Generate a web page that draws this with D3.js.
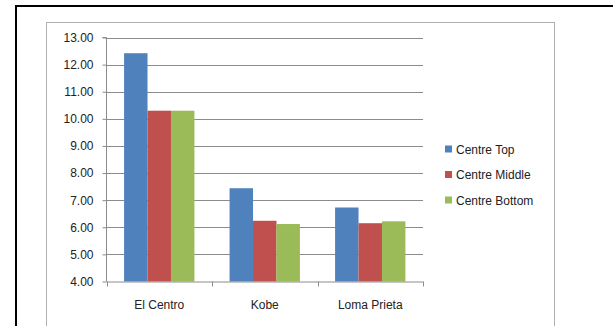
<!DOCTYPE html>
<html>
<head>
<meta charset="utf-8">
<script src="https://cdnjs.cloudflare.com/ajax/libs/d3/7.8.5/d3.min.js"></script>
<style>
  html, body { margin: 0; padding: 0; background: #fff; }
  svg { display: block; }
  text { font-family: "Liberation Sans", Arial, sans-serif; fill: #222; }
</style>
</head>
<body>
<svg id="chart" width="613" height="326"></svg>
<script>
// Peak response per location, by earthquake record
const categories = ["El Centro", "Kobe", "Loma Prieta"];
const seriesNames = ["Centre Top", "Centre Middle", "Centre Bottom"];
const centreTop = [12.42, 7.44, 6.73];
const centreMiddle = [10.30, 6.24, 6.15];
const centreBottom = [10.30, 6.12, 6.22];
const yTicks = [4, 5, 6, 7, 8, 9, 10, 11, 12, 13];
const colors = ["#4F81BD", "#C0504D", "#9BBB59"];

const seriesValues = [centreTop, centreMiddle, centreBottom];
const svg = d3.select("#chart");

// outer black frame and grey chart-area border
svg.append("rect").attr("x", 16).attr("y", 6).attr("width", 640).attr("height", 360)
  .attr("fill", "none").attr("stroke", "#000").attr("stroke-width", 2);
svg.append("rect").attr("x", 46.5).attr("y", 22.5).attr("width", 508).attr("height", 340)
  .attr("fill", "#fff").attr("stroke", "#b0b0b0").attr("stroke-width", 1);

const plot = { left: 106.5, right: 423, top: 37.5, bottom: 281.5 };

// gap width 150%: each category holds 3 bars plus 1.5 bar widths of gap
const step = (plot.right - plot.left) / categories.length;
const barW = step / 4.5;
const y = d3.scaleLinear().domain([4, 13]).range([plot.bottom, plot.top]);

// horizontal gridlines
svg.append("g").selectAll("line").data(yTicks.slice(1)).join("line")
  .attr("x1", plot.left).attr("x2", plot.right)
  .attr("y1", d => Math.round(y(d)) + 0.5).attr("y2", d => Math.round(y(d)) + 0.5)
  .attr("stroke", "#8c8c8c").attr("stroke-width", 1);

// bars
categories.forEach((c, ci) => {
  const gx = plot.left + ci * step + barW * 0.75;
  seriesValues.forEach((vals, si) => {
    svg.append("rect")
      .attr("x", gx + si * barW)
      .attr("y", y(vals[ci]))
      .attr("width", barW)
      .attr("height", y(4) - y(vals[ci]))
      .attr("fill", colors[si]);
  });
});

// y axis
const yAxis = d3.axisLeft(y).tickValues(yTicks).tickFormat(d3.format(".2f")).tickSize(4).tickPadding(9);
const ya = svg.append("g").attr("transform", `translate(${plot.left},0)`).call(yAxis);
ya.select(".domain").attr("stroke", "#8c8c8c").attr("d", `M-4,${plot.top}H0V${plot.bottom}`);
ya.selectAll(".tick line").attr("stroke", "#8c8c8c");
ya.selectAll(".tick text").attr("font-size", 12).attr("font-family", "'Liberation Sans', Arial, sans-serif").attr("fill", "#222");

// x axis with tick marks at category boundaries
const boundaries = d3.range(categories.length + 1).map(i => plot.left + i * step);
svg.append("line").attr("x1", plot.left).attr("x2", plot.right)
  .attr("y1", plot.bottom + 0.5).attr("y2", plot.bottom + 0.5).attr("stroke", "#8c8c8c");
svg.append("g").selectAll("line").data(boundaries).join("line")
  .attr("x1", d => Math.round(d) + 0.5).attr("x2", d => Math.round(d) + 0.5)
  .attr("y1", plot.bottom).attr("y2", plot.bottom + 5).attr("stroke", "#8c8c8c");
svg.append("g").selectAll("text").data(categories).join("text")
  .attr("x", (d, i) => plot.left + (i + 0.5) * step)
  .attr("y", 309)
  .attr("text-anchor", "middle")
  .attr("font-size", 12)
  .text(d => d);

// legend
const legendY = [149, 174.5, 200];
const lg = svg.append("g");
seriesNames.forEach((n, i) => {
  lg.append("rect").attr("x", 445).attr("y", legendY[i] - 3.5).attr("width", 7).attr("height", 7).attr("fill", colors[i]);
  lg.append("text").attr("x", 456).attr("y", legendY[i] + 4.5).attr("font-size", 12).text(n);
});
</script>
</body>
</html>
